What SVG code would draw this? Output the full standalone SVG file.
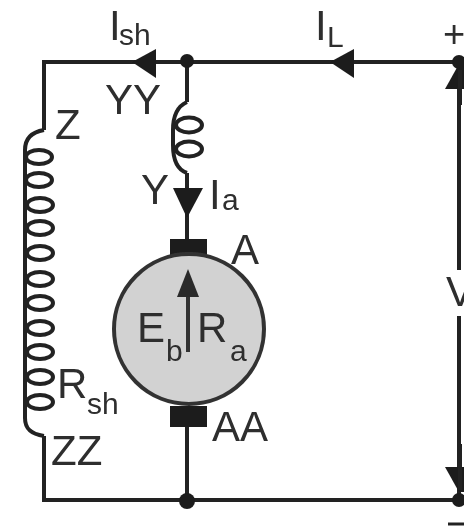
<svg xmlns="http://www.w3.org/2000/svg" width="464" height="528" viewBox="0 0 464 528">
<style>
.w{fill:none;stroke:#222;stroke-width:4}
.c{fill:none;stroke:#222;stroke-width:4}
.d{fill:#1e1e1e}
text{font-family:"Liberation Sans",Arial,sans-serif;fill:#2e2e2e;font-size:42px}
.s{font-size:30px}
.p{font-size:38px}
</style>
<defs>
<filter id="b" x="-5%" y="-5%" width="110%" height="110%"><feGaussianBlur stdDeviation="0.7"/></filter>
<ellipse id="loop" rx="13" ry="7" class="c"/>
</defs>
<rect width="464" height="528" fill="#fff"/>
<g filter="url(#b)">
<g id="connectors">
<path class="w" d="M459 62H44V130"/>
<path class="w" d="M44 436V500H459"/>
<path class="w" d="M187 62V102"/>
<path class="w" d="M187 173V245"/>
<path class="w" d="M187 425V500"/>
<path class="w" d="M459 62V270"/>
<path class="w" d="M459 316V500"/>
<polygon class="d" points="132,62 156,49 156,78"/>
<polygon class="d" points="330,62 354,49 354,78"/>
<polygon class="d" points="187,218 173,188 203,188"/>
<polygon class="d" points="445,89 464,89 464,64 459,64"/>
<polygon class="d" points="445,467 464,467 464,492 459,492"/>
<path class="w" d="M460 105V70M460 444V490"/>
</g>
<g id="field-coil">
<path class="c" d="M44 130C32 132 25 138 25 150V418C25 428 30 434 44 436"/>
<use href="#loop" x="39" y="157"/><use href="#loop" x="39" y="180"/><use href="#loop" x="40" y="205"/><use href="#loop" x="40" y="228"/><use href="#loop" x="40" y="253"/><use href="#loop" x="40" y="279"/><use href="#loop" x="40" y="303"/><use href="#loop" x="40" y="328"/><use href="#loop" x="40" y="352"/><use href="#loop" x="40" y="377"/><use href="#loop" x="40" y="402"/>
<text x="55" y="139">Z</text>
<text x="57" y="398">R</text><text class="s" x="87" y="414">sh</text>
<text x="51" y="465">ZZ</text>
</g>
<g id="series-coil">
<path class="c" d="M187 102C178 106 173 115 173 130V145C173 160 178 170 187 173"/>
<ellipse class="c" cx="189" cy="125" rx="13" ry="7.5"/>
<ellipse class="c" cx="189" cy="149" rx="13" ry="7.5"/>
<text x="105" y="114" textLength="56" lengthAdjust="spacingAndGlyphs">YY</text>
<text x="141" y="204">Y</text>
</g>
<g id="armature">
<rect class="d" x="170" y="239" width="37" height="18"/>
<rect class="d" x="170" y="406" width="37" height="21"/>
<circle cx="189" cy="329" r="75" fill="#d2d2d2" stroke="#333" stroke-width="4"/>
<path d="M188 352V290" stroke="#333" stroke-width="4" fill="none"/>
<polygon points="188,269 177,297 199,297" fill="#2a2a2a"/>
<text x="137" y="342">E</text><text class="s" x="166" y="361">b</text>
<text x="197" y="342">R</text><text class="s" x="230" y="361">a</text>
<text x="231" y="264">A</text>
<text x="212" y="441">AA</text>
</g>
<g id="junctions">
<circle class="d" cx="187" cy="61" r="7"/>
<circle class="d" cx="187" cy="501" r="8"/>
<circle class="d" cx="459" cy="62" r="7"/>
<circle class="d" cx="459" cy="500" r="7"/>
</g>
<g id="labels">
<text x="109" y="40">I</text><text class="s" x="119" y="45">sh</text>
<text x="315" y="40">I</text><text class="s" x="327" y="47">L</text>
<text x="209" y="209">I</text><text class="s" x="222" y="210">a</text>
<text class="p" x="443" y="47">+</text>
<text x="446" y="306">V</text>
<path d="M448 524H464" stroke="#222" stroke-width="3"/>
</g>
</g>
</svg>
